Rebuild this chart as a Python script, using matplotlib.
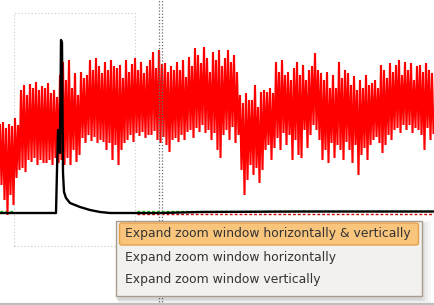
import matplotlib
matplotlib.use("Agg")
import matplotlib.pyplot as plt
import numpy as np
from matplotlib.patches import Rectangle, FancyBboxPatch

# red signal: upper / lower excursion per sample bin (height above baseline)
SIG_STEP = 3
sig_hi = [88, 91, 85, 89, 87, 95, 88, 123, 128, 118,
          129, 125, 131, 123, 127, 125, 130, 120, 123, 116,
          138, 151, 133, 153, 125, 140, 118, 141, 135, 138,
          153, 143, 155, 147, 140, 151, 143, 153, 147, 145,
          148, 135, 153, 141, 149, 155, 143, 151, 140, 147,
          153, 161, 145, 163, 149, 150, 141, 147, 143, 151,
          143, 153, 136, 156, 147, 165, 158, 150, 166, 155,
          141, 161, 153, 163, 147, 155, 163, 151, 158, 141,
          118, 110, 120, 113, 113, 128, 106, 121, 123, 121,
          125, 120, 151, 141, 153, 138, 141, 133, 145, 151,
          138, 148, 133, 143, 147, 160, 143, 140, 133, 141,
          125, 138, 125, 151, 135, 143, 140, 128, 137, 123,
          133, 125, 138, 128, 130, 133, 125, 148, 143, 135,
          150, 141, 148, 153, 138, 151, 143, 150, 133, 147,
          148, 141, 150, 143, 140]
sig_lo = [28, 13, -2, 18, 8, 35, 43, 45, 41, 53,
          51, 55, 48, 53, 50, 50, 53, 48, 55, 50,
          53, 48, 55, 48, 63, 51, 58, 75, 70, 78,
          72, 76, 70, 73, 71, 63, 70, 53, 68, 48,
          63, 70, 73, 78, 71, 80, 77, 81, 75, 78,
          78, 82, 73, 70, 76, 68, 61, 73, 75, 71,
          78, 73, 81, 83, 75, 85, 81, 88, 80, 83,
          73, 80, 63, 55, 78, 83, 73, 86, 70, 78,
          43, 18, 33, 48, 38, 45, 30, 43, 63, 68,
          53, 65, 75, 63, 80, 68, 78, 53, 73, 58,
          55, 83, 65, 78, 88, 83, 73, 53, 63, 50,
          70, 55, 68, 63, 53, 71, 63, 50, 68, 38,
          58, 65, 53, 68, 73, 76, 70, 60, 68, 78,
          73, 83, 85, 80, 88, 83, 88, 80, 85, 83,
          78, 63, 85, 73, 80]

# black trace (time, value)
blk_t = [0, 56, 57, 58, 59, 60, 61, 62, 63, 64, 66, 70, 75, 80, 90, 100, 110, 160, 200, 300, 435]
blk_v = [0, 0, 43, 83, 83, 60, 173, 170, 40, 21, 15, 10, 8, 6, 3, 1, 0, 0, 1, 1.5, 1.5]

ref_green = 2
ref_red = -0.5
zoom_box = (14, 135, -33, 200)
cursor_t = 160.8

menu_items = ["Expand zoom window horizontally & vertically",
              "Expand zoom window horizontally",
              "Expand zoom window vertically"]

W, H = 435, 305
fig = plt.figure(figsize=(W / 100, H / 100), dpi=100)
ax = fig.add_axes([0, 0, 1, 1])
ax.set_xlim(0, W)
ax.set_ylim(213 - H, 213)
ax.axis("off")

# zigzag between upper and lower excursions
t = np.arange(len(sig_hi)) * SIG_STEP
xs = np.column_stack([t, t + SIG_STEP / 2]).ravel()
ys = np.column_stack([sig_hi, sig_lo]).ravel()
ax.plot(xs, ys, color="#ff0000", lw=1.5, solid_joinstyle="miter", zorder=3)

ax.hlines(ref_green, 0, zoom_box[0], colors="#22cc22", linestyles=(0, (2, 1.5)), lw=1, zorder=2)
ax.hlines(ref_green, zoom_box[1] + 2, W, colors="#22cc22", linestyles=(0, (2, 1.5)), lw=1, zorder=2)
ax.hlines(ref_red, zoom_box[1] + 2, W, colors="#cc0000", linestyles=(0, (2, 1.5)), lw=1, zorder=2)
ax.plot(blk_t, blk_v, color="black", lw=1.7, zorder=4)

x0, x1, y0, y1 = zoom_box
ax.add_patch(Rectangle((x0, y0), x1 - x0, y1 - y0, fill=False, ec="#c8c8c8",
                       lw=0.8, ls=(0, (1, 2)), zorder=1))
for dx in (-1.5, 1.5):
    ax.axvline(cursor_t + dx, color="#6e6e6e", lw=0.9, ls=(0, (1, 1.5)), zorder=5)

# window border at bottom
fig.add_artist(plt.Line2D([0, 1], [1.5 / H, 1.5 / H], color="#bdbdbd", lw=1.6))


def px(x, y):
    return x / W, 1 - y / H


# context menu
for k, a in enumerate([0.05, 0.05, 0.04, 0.03]):
    sx, sy = px(116 + k, 221 - k + 3)
    fig.add_artist(Rectangle((sx, sy - (76 + 2 * k) / H), (306 + 2 * k) / W, (76 + 2 * k) / H,
                             transform=fig.transFigure, fc="black", ec="none", alpha=a, zorder=9))
mx, my = px(116.5, 295.5)
fig.add_artist(Rectangle((mx, my), 305 / W, 74.5 / H, transform=fig.transFigure,
                         fc="#f2f1f0", ec="#a89c8e", lw=1, zorder=10))
hx, hy = px(119.5, 245)
fig.add_artist(FancyBboxPatch((hx, hy), 299 / W, 22 / H, boxstyle="round,pad=0,rounding_size=0.006",
                              transform=fig.transFigure, fc="#f9c57c", ec="#e2a14c", lw=1, zorder=11))
for i, label in enumerate(menu_items):
    tx, ty = px(125.5, 234 + i * 23)
    fig.text(tx, ty, label, fontsize=8.95, color="#333333", va="center", ha="left",
             family="DejaVu Sans", zorder=12)

fig.savefig("out.png", dpi=100)
